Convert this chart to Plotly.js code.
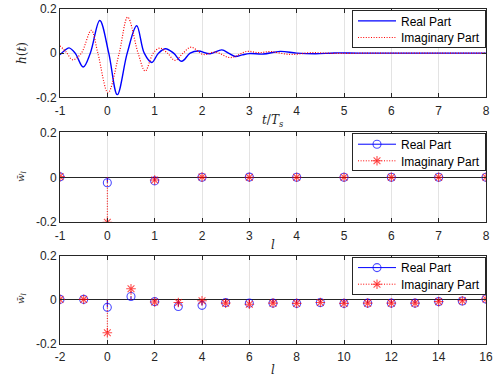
<!DOCTYPE html>
<html>
<head>
<meta charset="utf-8">
<script src="https://cdn.plot.ly/plotly-3.0.1.min.js"></script>
<style>html,body{margin:0;padding:0;background:#fff;}#chart{width:494px;height:378px;}</style>
</head>
<body>
<div id="chart"></div>
<script>
// ---- Panel 1: continuous pulse h(t) ----
var tReal = [-1, -0.9, -0.81, -0.68, -0.51, -0.36, -0.16, 0.03, 0.21, 0.42, 0.62, 0.78, 0.94, 1.08, 1.23, 1.40, 1.57, 1.75, 1.92, 2.17, 2.42, 2.56, 2.70, 2.85, 3.0, 3.3, 3.65, 4.0, 4.4, 4.8, 5.3, 6, 7, 8];
var hReal = [-0.007, 0.012, 0.024, 0.000, -0.063, 0.000, 0.148, 0.000, -0.188, 0.000, 0.124, 0.000, -0.042, 0.000, 0.020, 0.000, -0.037, 0.000, 0.010, -0.003, 0.015, 0.000, -0.015, -0.008, -0.002, -0.004, 0.008, 0.000, -0.003, 0.001, 0, 0, 0, 0];
var tImag = [-1, -0.87, -0.73, -0.55, -0.34, -0.20, 0.015, 0.25, 0.43, 0.65, 0.80, 0.97, 1.11, 1.27, 1.43, 1.60, 1.77, 2.03, 2.28, 2.6, 2.95, 3.2, 3.44, 3.86, 4.3, 4.8, 5.5, 6, 7, 8];
var hImag = [0.033, 0.005, -0.030, 0.000, 0.103, 0.000, -0.179, 0.000, 0.163, 0.000, -0.081, 0.000, 0.023, 0.000, -0.033, 0.000, 0.027, -0.006, 0.005, -0.020, 0.008, 0.002, 0.007, -0.006, 0.002, -0.001, 0, 0, 0, 0];

// ---- Panel 2: taps l = -1..8 ----
var l1 = [-1, 0, 1, 2, 3, 4, 5, 6, 7, 8];
var w1Real = [0.002, -0.024, -0.016, 0.000, 0.001, 0, 0, 0, 0, 0];
var w1Imag = [0.003, -0.200, -0.012, 0.001, 0, 0, 0, 0, 0, 0];

// ---- Panel 3: taps l = -2..16 ----
var l2 = [-2, -1, 0, 1, 2, 3, 4, 5, 6, 7, 8, 9, 10, 11, 12, 13, 14, 15, 16];
var w2Real = [0.002, 0.002, -0.034, 0.015, -0.008, -0.030, -0.025, -0.012, -0.015, -0.015, -0.016, -0.012, -0.016, -0.015, -0.015, -0.015, -0.008, -0.005, 0.004];
var w2Imag = [0.002, 0.002, -0.149, 0.050, -0.010, -0.012, -0.004, -0.015, -0.020, -0.015, -0.016, -0.012, -0.016, -0.015, -0.015, -0.015, -0.008, -0.004, 0.004];

// ---- tick labels ----
var xTicks1 = [-1, 0, 1, 2, 3, 4, 5, 6, 7, 8];
var xTickText1 = ['-1', '0', '1', '2', '3', '4', '5', '6', '7', '8'];
var xTicks3 = [-2, 0, 2, 4, 6, 8, 10, 12, 14, 16];
var xTickText3 = ['-2', '0', '2', '4', '6', '8', '10', '12', '14', '16'];
var yTicks = [-0.2, 0, 0.2];
var yTickText = ['-0.2', '0', '0.2'];
var seriesNames = ['Real Part', 'Imaginary Part'];

var BLUE = '#0000ff', RED = '#ff0000', AX = '#262626';
var DOT = '1px,1.6px';
var MS = 8;
var SANS = 'Liberation Sans, Arial, sans-serif';

function stem(xs, ys, name, color, dash, symbol, xa, ya, leg) {
  var X = [], Y = [], S = [];
  for (var i = 0; i < xs.length; i++) {
    X.push(xs[i], xs[i], null);
    Y.push(0, ys[i], null);
    S.push(0, MS, 2 * MS);
  }
  return {
    x: X, y: Y, type: 'scatter', mode: 'lines+markers', name: name,
    xaxis: xa, yaxis: ya, legend: leg, connectgaps: false,
    line: {color: color, width: 1, dash: dash},
    marker: {symbol: symbol, size: S, color: color, line: {color: color, width: 1.1}},
    hoverinfo: 'skip'
  };
}

var traces = [
  {x: tReal, y: hReal, type: 'scatter', mode: 'lines', name: seriesNames[0], xaxis: 'x', yaxis: 'y', legend: 'legend',
   line: {color: BLUE, width: 1.4, shape: 'spline', smoothing: 1}},
  {x: tImag, y: hImag, type: 'scatter', mode: 'lines', name: seriesNames[1], xaxis: 'x', yaxis: 'y', legend: 'legend',
   line: {color: RED, width: 1.2, shape: 'spline', smoothing: 1, dash: DOT}},
  stem(l1, w1Real, seriesNames[0], BLUE, 'solid', 'circle-open', 'x2', 'y2', 'legend2'),
  stem(l1, w1Imag, seriesNames[1], RED, DOT, 'asterisk-open', 'x2', 'y2', 'legend2'),
  stem(l2, w2Real, seriesNames[0], BLUE, 'solid', 'circle-open', 'x3', 'y3', 'legend3'),
  stem(l2, w2Imag, seriesNames[1], RED, DOT, 'asterisk-open', 'x3', 'y3', 'legend3')
];

function axBase(extra) {
  var a = {
    showline: true, mirror: 'ticks', linecolor: AX, linewidth: 1,
    ticks: 'inside', ticklen: 4, tickcolor: AX, tickwidth: 1,
    showgrid: true, gridcolor: '#e3e3e3', gridwidth: 1, zeroline: false,
    tickfont: {family: SANS, size: 12, color: AX},
    fixedrange: true
  };
  for (var k in extra) a[k] = extra[k];
  return a;
}

var legBase = function (y) {
  return {x: 1, xanchor: 'right', y: y, yanchor: 'top', bgcolor: '#ffffff', bordercolor: AX, borderwidth: 1,
          font: {family: SANS, size: 12, color: '#000'}, tracegroupgap: 0, itemwidth: 38,
          entrywidth: 80, entrywidthmode: 'pixels'};
};

var serif = 'DejaVu Serif, Liberation Serif, serif';
var layout = {
  width: 494, height: 378,
  margin: {l: 60, r: 8, t: 9, b: 34},
  paper_bgcolor: '#fff', plot_bgcolor: '#fff',
  showlegend: true,
  xaxis: axBase({domain: [0, 1], anchor: 'y', range: [-1, 8], tickvals: xTicks1, ticktext: xTickText1, ticklabelstandoff: 2}),
  yaxis: axBase({domain: [0.7364, 1], anchor: 'x', range: [-0.2, 0.2], tickvals: yTicks, ticktext: yTickText}),
  xaxis2: axBase({domain: [0, 1], anchor: 'y2', range: [-1, 8], tickvals: xTicks1, ticktext: xTickText1, ticklabelstandoff: 2}),
  yaxis2: axBase({domain: [0.3633, 0.6319], anchor: 'x2', range: [-0.2, 0.2], tickvals: yTicks, ticktext: yTickText,
                  zeroline: true, zerolinecolor: AX, zerolinewidth: 1}),
  xaxis3: axBase({domain: [0, 1], anchor: 'y3', range: [-2, 16], tickvals: xTicks3, ticktext: xTickText3, ticklabelstandoff: 2}),
  yaxis3: axBase({domain: [0, 0.2636], anchor: 'x3', range: [-0.2, 0.2], tickvals: yTicks, ticktext: yTickText,
                  zeroline: true, zerolinecolor: AX, zerolinewidth: 1}),
  legend: legBase(0.997),
  legend2: legBase(0.6289),
  legend3: legBase(0.2606),
  annotations: [
    {text: '<i>t</i>/<i>T</i><sub><i>s</i></sub>', xref: 'paper', yref: 'paper', x: 0.5, y: 0.6657, showarrow: false,
     xanchor: 'center', yanchor: 'middle', font: {family: serif, size: 12, color: AX}},
    {text: '<i>l</i>', xref: 'paper', yref: 'paper', x: 0.5, y: 0.2955, showarrow: false,
     xanchor: 'center', yanchor: 'middle', font: {family: serif, size: 12, color: AX}},
    {text: '<i>l</i>', xref: 'paper', yref: 'paper', x: 0.5, y: -0.0776, showarrow: false,
     xanchor: 'center', yanchor: 'middle', font: {family: serif, size: 12, color: AX}},
    {text: '<i>h</i>(<i>t</i>)', xref: 'paper', yref: 'paper', x: -0.0892, y: 0.8687, showarrow: false, textangle: -90,
     xanchor: 'center', yanchor: 'middle', font: {family: serif, size: 12, color: AX}},
    {text: '<i>w\u0304</i><sub><i>l</i></sub>', xref: 'paper', yref: 'paper', x: -0.0915, y: 0.4985, showarrow: false, textangle: -90,
     xanchor: 'center', yanchor: 'middle', font: {family: serif, size: 10, color: AX}},
    {text: '<i>w\u0304</i><sub><i>l</i></sub>', xref: 'paper', yref: 'paper', x: -0.0915, y: 0.1343, showarrow: false, textangle: -90,
     xanchor: 'center', yanchor: 'middle', font: {family: serif, size: 10, color: AX}}
  ]
};

// Tighten the legend rows to the compact spacing of the reference (the library's
// minimum row height is larger), keeping the library-drawn legend items.
function compactLegends(gd) {
  try {
    var legs = gd.querySelectorAll('g.legend, g.legend2, g.legend3');
    for (var j = 0; j < legs.length; j++) {
      var lg = legs[j];
      var items = lg.querySelectorAll('g.traces');
      for (var i = 0; i < items.length; i++) {
        var tr = items[i].getAttribute('transform') || '';
        var m = tr.match(/translate\(\s*([-\d.e]+)[ ,]+([-\d.e]+)\s*\)/);
        if (m) {
          var x = parseFloat(m[1]), y = parseFloat(m[2]);
          items[i].setAttribute('transform', 'translate(' + x + ',' + (y - 4.6 - 2.4 * i) + ')');
        }
      }
      var bg = lg.querySelector('rect.bg');
      if (bg) bg.setAttribute('height', 37);
    }
  } catch (e) {}
}

Plotly.newPlot('chart', traces, layout, {displayModeBar: false, staticPlot: true}).then(compactLegends);
</script>
</body>
</html>
